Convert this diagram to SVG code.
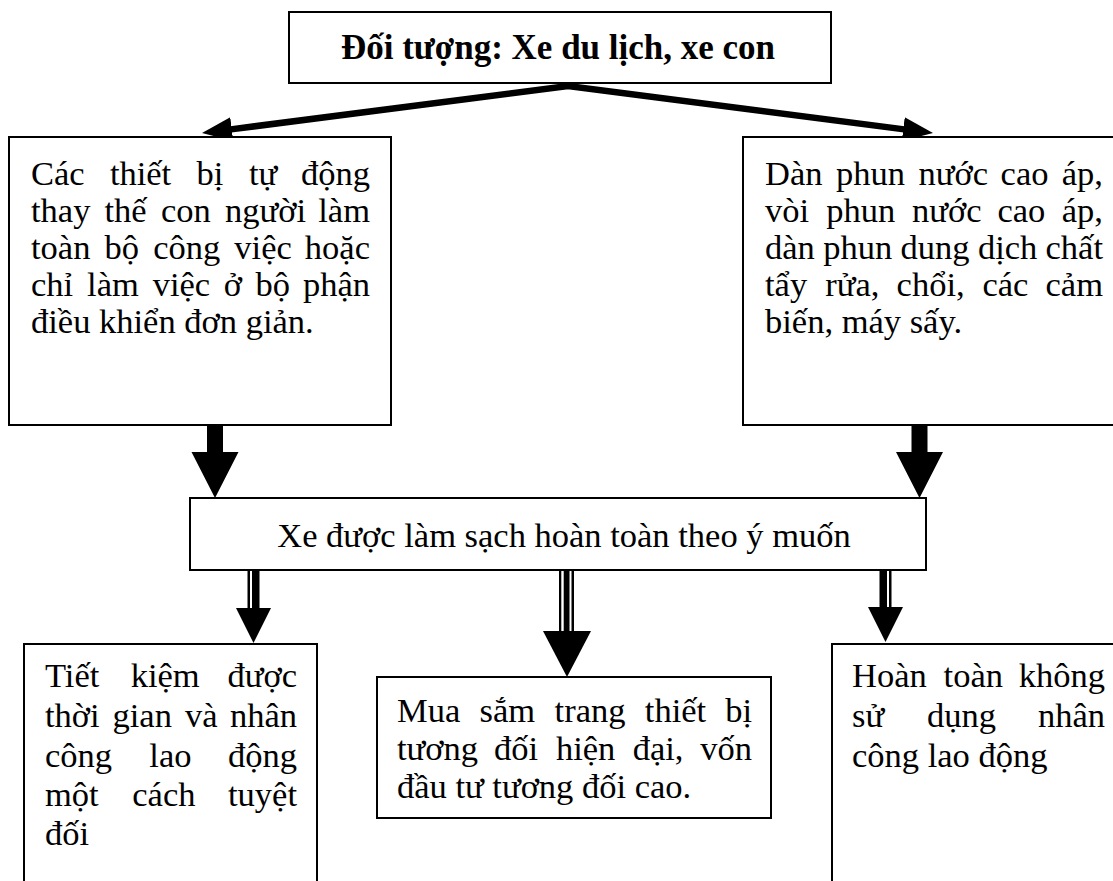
<svg xmlns="http://www.w3.org/2000/svg" xmlns:xlink="http://www.w3.org/1999/xlink" width="1113" height="881" viewBox="0 0 1113 881">
  <style>
    .box { fill: #fff; stroke: #000; stroke-width: 2; }
    .t { font-family: "Liberation Serif", "Times New Roman", serif; font-size: 34.5px; fill: #000; }
    .e { text-anchor: end; }
    .c { text-anchor: middle; }
    .title { font-weight: bold; font-size: 35px; }
    .ink { fill: #000; stroke: none; }
  </style>
  <defs>
    <marker id="head" markerUnits="userSpaceOnUse" markerWidth="30" markerHeight="24" viewBox="0 0 30 24" refX="3" refY="12" orient="auto-start-reverse">
      <path d="M0,0 L30,12 L0,24 Z" fill="#000"/>
    </marker>
    <!-- solid block arrow, top-centre at origin -->
    <path id="block" d="M-8,0 H8 V26 H23.5 L0,72 L-23.5,26 H-8 Z"/>
  </defs>

  <rect width="1113" height="881" fill="#fff"/>

  <g id="connectors">
    <path d="M228.8,129.6 L568,86 L906.2,129.6" fill="none" stroke="#000" stroke-width="6.5" stroke-linejoin="miter" marker-start="url(#head)" marker-end="url(#head)"/>
    <use xlink:href="#block" x="215" y="426" class="ink"/>
    <use xlink:href="#block" x="919.5" y="426" class="ink"/>
    <!-- striped arrows below the result box -->
    <g class="ink">
      <rect x="247.5" y="570" width="2.5" height="38"/>
      <rect x="252" y="570" width="7.5" height="38"/>
      <polygon points="236,608 271,608 253.5,643"/>
      <rect x="559" y="570" width="2.3" height="61"/>
      <rect x="563.7" y="570" width="5.8" height="61"/>
      <rect x="571.5" y="570" width="2.5" height="61"/>
      <polygon points="543,631 591,631 567,677"/>
      <rect x="879.5" y="570" width="7.5" height="37"/>
      <rect x="889" y="570" width="2.5" height="37"/>
      <polygon points="868,607 903,607 885.5,642"/>
    </g>
  </g>

  <g id="n-object">
    <rect class="box" x="289" y="12" width="542" height="71"/>
    <text class="t title c" x="558" y="59">Đối tượng: Xe du lịch, xe con</text>
  </g>

  <g id="n-auto">
    <rect class="box" x="9" y="137" width="382" height="288"/>
    <text class="t">
      <tspan x="31" y="185">Các</tspan><tspan x="109.9">thiết</tspan><tspan x="196.4">bị</tspan><tspan x="248.9">tự</tspan>
      <tspan x="31" y="222">thay</tspan><tspan x="104.5">thế</tspan><tspan x="161">con</tspan><tspan x="225.1">người</tspan>
      <tspan x="31" y="259">toàn</tspan><tspan x="104.4">bộ</tspan><tspan x="153.3">công</tspan><tspan x="234.3">việc</tspan>
      <tspan x="31" y="296">chỉ</tspan><tspan x="87.1">làm</tspan><tspan x="152.7">việc</tspan><tspan x="223.8">ở</tspan><tspan x="255.4">bộ</tspan>
      <tspan x="31" y="333">điều khiển đơn giản.</tspan>
    </text>
    <text class="t e" x="370" y="185">động</text>
    <text class="t e" x="370" y="222">làm</text>
    <text class="t e" x="370" y="259">hoặc</text>
    <text class="t e" x="370" y="296">phận</text>
  </g>

  <g id="n-equipment">
    <rect class="box" x="743" y="137" width="380" height="288"/>
    <text class="t">
      <tspan x="765" y="185">Dàn</tspan><tspan x="836.1">phun</tspan><tspan x="918.6">nước</tspan><tspan x="1000.6">cao</tspan>
      <tspan x="765" y="222">vòi</tspan><tspan x="826.3">phun</tspan><tspan x="912.1">nước</tspan><tspan x="997.4">cao</tspan>
      <tspan x="765" y="259">dàn</tspan><tspan x="823.2">phun</tspan><tspan x="900.5">dung</tspan><tspan x="977.9">dịch</tspan>
      <tspan x="765" y="296">tẩy</tspan><tspan x="825.3">rửa,</tspan><tspan x="896.6">chổi,</tspan><tspan x="982.4">các</tspan>
      <tspan x="765" y="333">biến, máy sấy.</tspan>
    </text>
    <text class="t e" x="1103" y="185">áp,</text>
    <text class="t e" x="1103" y="222">áp,</text>
    <text class="t e" x="1103" y="259">chất</text>
    <text class="t e" x="1103" y="296">cảm</text>
  </g>

  <g id="n-result">
    <rect class="box" x="190" y="498" width="736" height="72"/>
    <text class="t c" x="564" y="547">Xe được làm sạch hoàn toàn theo ý muốn</text>
  </g>

  <g id="n-saving">
    <rect class="box" x="24" y="644" width="293" height="250"/>
    <text class="t">
      <tspan x="45" y="687">Tiết</tspan><tspan x="130.7">kiệm</tspan>
      <tspan x="45" y="727">thời</tspan><tspan x="112.5">gian</tspan><tspan x="184.9">và</tspan>
      <tspan x="45" y="767">công</tspan><tspan x="149.3">lao</tspan>
      <tspan x="45" y="806">một</tspan><tspan x="132.3">cách</tspan>
      <tspan x="45" y="845">đối</tspan>
    </text>
    <text class="t e" x="297" y="687">được</text>
    <text class="t e" x="297" y="727">nhân</text>
    <text class="t e" x="297" y="767">động</text>
    <text class="t e" x="297" y="806">tuyệt</text>
  </g>

  <g id="n-cost">
    <rect class="box" x="377" y="677" width="394" height="141"/>
    <text class="t">
      <tspan x="397" y="722">Mua</tspan><tspan x="479.6">sắm</tspan><tspan x="554.6">trang</tspan><tspan x="644.8">thiết</tspan>
      <tspan x="397" y="760">tương</tspan><tspan x="494.1">đối</tspan><tspan x="555.9">hiện</tspan><tspan x="632.7">đại,</tspan>
      <tspan x="397" y="798">đầu tư tương đối cao.</tspan>
    </text>
    <text class="t e" x="752" y="722">bị</text>
    <text class="t e" x="752" y="760">vốn</text>
  </g>

  <g id="n-labour">
    <rect class="box" x="832" y="644" width="300" height="250"/>
    <text class="t">
      <tspan x="852" y="687">Hoàn</tspan><tspan x="943.6">toàn</tspan>
      <tspan x="852" y="727">sử</tspan><tspan x="926.9">dụng</tspan>
      <tspan x="852" y="767">công lao động</tspan>
    </text>
    <text class="t e" x="1105" y="687">không</text>
    <text class="t e" x="1105" y="727">nhân</text>
  </g>
</svg>
